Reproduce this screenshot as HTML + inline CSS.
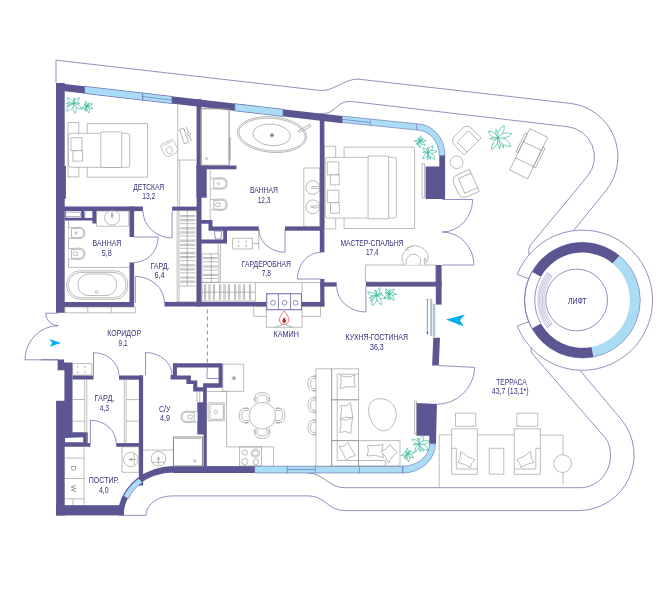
<!DOCTYPE html>
<html><head><meta charset="utf-8"><title>Plan</title>
<style>
html,body{margin:0;padding:0;background:#fff;}
body{width:669px;height:590px;overflow:hidden;font-family:"Liberation Sans",sans-serif;}
svg{display:block;will-change:transform;}
text{font-family:"Liberation Sans",sans-serif;}
</style></head><body>
<svg width="669" height="590" viewBox="0 0 669 590">
<rect width="669" height="590" fill="#fff"/>
<g fill="none" stroke="#5356a0" stroke-width="0.65">
<path d="M56,83 L56,60.2 L319.4,90.4 C333,92 343,79.3 358,79.1 L570.2,103.4 A53.75,53.75 0 0 1 605.6,191 L573.8,230.4"/>
<path d="M324.5,113.3 C333,113.6 338,102.6 347,101.6 C350,101.3 353,101.6 356,102 L567.6,126.7 A30.3,30.3 0 0 1 587.5,176.1 L530.5,245 Q527.5,249 529,254.3"/>
<path d="M517.3,274.3 A70.1,70.1 0 1 1 517.3,326.1"/>
<path d="M517.3,274.3 L528.6,278.8"/>
<path d="M517.3,326.1 L528.6,321.6"/>
<path d="M532.0,271.8 A57.9,57.9 0 0 0 532.0,328.6"/>
<path d="M540.9,276.8 A47.6,47.6 0 0 0 540.9,323.6"/>
<circle cx="576.6" cy="300" r="30.9"/>
<path stroke-width="0.35" d="M552.0,276.4 A38.6,38.6 0 0 0 552.0,324.0"/>
<path stroke-width="0.35" d="M550.8,275.5 A40.1,40.1 0 0 0 550.8,324.9"/>
<path stroke-width="0.35" d="M549.6,274.6 A41.6,41.6 0 0 0 549.6,325.8"/>
<path stroke-width="0.35" d="M548.4,273.7 A43.1,43.1 0 0 0 548.4,326.7"/>
<path stroke-width="0.35" d="M547.3,272.7 A44.6,44.6 0 0 0 547.3,327.7"/>
<path stroke-width="0.5" d="M551.7,276.2 L547.3,272.7"/>
<path stroke-width="0.5" d="M551.7,324.2 L547.3,327.7"/>
<path d="M580.3,370.7 L621.8,420.2 A55.6,55.6 0 0 1 579,510.6 L344.5,510.6 C328,510.6 325,495.9 309,495.9 L172.3,495.9 A26.4,19.6 0 0 0 145.9,515.4 L123.6,515.4"/>
<path d="M531.5,347.5 Q530,351 532.5,354 L605.2,437.8 C609,442.4 610.5,449 610.5,455.5 C610.5,473.3 596.9,487.7 580.3,487.7 L344.5,487.7 C328,487.5 324,473 307.7,473"/>
<path d="M41,359.8 L58,359.8"/>
</g>
<g fill="none" stroke="#5356a0" stroke-width="0.65">
<path d="M58.3,359.8 L25,359.8 A33.5,34 0 0 1 58.3,325.7"/>
<path d="M58.3,313.2 L45.6,313.2 A12.7,12.5 0 0 0 58.3,325.7"/>
<path d="M172.1,211 L172.1,238 M143,211 A29.2,27 0 0 0 172.1,238"/>
<path d="M134,237 L158.2,237 A24.2,25.5 0 0 1 134,262.5"/>
<path d="M135.3,303 L135.3,276.4 A29.2,26.6 0 0 1 164.5,303"/>
<path d="M285,229 L285,252.3 M258.8,229 A26.2,23.3 0 0 0 285,252.3"/>
<path d="M321,279 L297.4,279 A23.6,26.7 0 0 1 321,252.3"/>
<path d="M365.9,286.6 L365.9,312 M336.7,286.6 A29.2,25.4 0 0 0 365.9,312"/>
<path d="M442.1,199.5 L472.6,199.5 A30.5,32.5 0 0 1 442.1,232 A31.8,33 0 0 1 473.9,265 L442.1,265"/>
<path d="M438.6,365.6 L474.7,367.4 A37.5,38 0 0 1 436.6,404.2"/>
<path d="M93.5,375.5 L93.5,352.7 A25.5,22.8 0 0 1 119,375.5"/>
<path d="M145.5,375.4 L145.5,352.5 A26.6,22.9 0 0 1 172.1,375.4"/>
<path d="M90.4,443.1 L90.4,420.3 A25.8,22.8 0 0 1 116.2,443.1"/>
<path d="M207.4,309.5 L207.4,363" stroke-dasharray="4,3"/>
</g>
<g fill="#5b5591" stroke="none">
<path d="M56,83.0 L342.3,116.1 L342.3,123.3 L56,90.2 Z"/>
<rect x="56" y="83" width="8.7" height="229.8"/>
<rect x="56" y="166" width="9.9" height="32.5"/>
<rect x="196.6" y="99.2" width="4.9" height="207.2"/>
<rect x="319.8" y="113.5" width="4.6" height="138.8"/>
<rect x="320.2" y="279" width="4.2" height="27.4"/>
<rect x="320.2" y="282.3" width="16.5" height="4.3"/>
<rect x="56" y="206.5" width="86.9" height="4.6"/>
<rect x="172.1" y="206.6" width="25" height="4"/>
<rect x="129.5" y="206.5" width="4.6" height="30.5"/>
<rect x="129.5" y="262.5" width="4.6" height="44.5"/>
<rect x="56" y="302" width="78" height="5"/>
<rect x="164.5" y="301.9" width="101.9" height="4.6"/>
<rect x="302" y="301.9" width="22.4" height="4.6"/>
<rect x="227" y="226.4" width="31.8" height="4.3"/>
<rect x="285" y="226.4" width="36" height="4.3"/>
<rect x="196.5" y="165.5" width="40" height="3.8"/>
<rect x="196.5" y="165.5" width="10.2" height="32.2"/>
<path d="M200.8,220 L212.5,220 L212.5,226.4 L227,226.4 L227,243.4 L200.8,243.4 L200.8,239.6 L223.2,239.6 L223.2,230.7 L208.5,230.7 L208.5,223.8 L200.8,223.8 Z"/>
<path d="M439.3,155.5 L445.1,155.5 L445.1,198.9 L425.6,198.9 L425.6,166.4 L439.3,166.4 Z"/>
<rect x="365.9" y="282" width="75.7" height="4.6"/>
<rect x="435.8" y="265" width="5.8" height="39.6"/>
<path d="M433.3,337.8 L440,337.8 L438.8,365.6 L432.1,365.6 Z"/>
<path d="M416.5,403 L436.9,404 L436,443.7 L429.3,443.7 L429.3,435.8 L416.5,435.8 Z"/>
<rect x="173" y="466.1" width="81.8" height="6.9"/>
<path d="M123.6,515.4 A50.1,43 0 0 1 173.7,472.6 L173.7,466 A56,49.4 0 0 0 119,505.6 L119,515.4 Z"/>
<rect x="56" y="505.2" width="68" height="10.2"/>
<path d="M57.6,359.5 L64.1,359.5 L64.1,362.5 L72.5,362.5 L72.5,432.3 L87.7,432.3 L87.7,443.1 L90.4,443.1 L90.4,446.8 L64.7,446.8 L64.7,515.4 L56.1,515.4 L56.1,400.8 L64.4,400.8 L64.4,370.3 L57.6,370.3 Z"/>
<rect x="72.5" y="375.5" width="21" height="4"/>
<rect x="119" y="375.5" width="23.9" height="4.2"/>
<rect x="138.9" y="375.5" width="4.2" height="110"/>
<rect x="116.2" y="443.1" width="23" height="3.7"/>
<path fill-rule="evenodd" d="M172.9,363.2 L222.6,363.2 L222.6,387.7 L206.8,387.7 L206.8,402.2 L206.8,466.1 L203.5,466.1 L203.5,434.5 L197.3,434.5 L197.3,402.2 L203.1,402.2 L203.1,391.4 L193.2,391.4 L193.2,383.9 L186.4,383.9 L186.4,379.6 L170.6,379.6 L170.6,375.1 L172.9,375.1 Z M176.9,367.4 L218.6,367.4 L218.6,383.2 L203.1,383.2 L203.1,387.3 L197.3,387.3 L197.3,380.5 L190.9,380.5 L190.9,375.5 L176.9,375.5 Z"/>
</g>
<path d="M65,438 L83.2,437.3 L83.2,442.3 L65,442.3 Z" fill="#fff"/>
<path fill="#5b5591" d="M532.0,271.8 A57.9,57.9 0 0 1 619.4,255.7 L612.8,263.6 A47.6,47.6 0 0 0 540.9,276.8 Z"/>
<path fill="#aadcf5" d="M619.4,255.7 A57.9,57.9 0 0 1 593.4,357.0 L591.5,346.9 A47.6,47.6 0 0 0 612.8,263.6 Z"/>
<path fill="#5b5591" d="M593.4,357.0 A57.9,57.9 0 0 1 532.0,328.6 L540.9,323.6 A47.6,47.6 0 0 0 591.5,346.9 Z"/>
<circle cx="582.4" cy="300.2" r="57.9" fill="none" stroke="#5356a0" stroke-width="0.5"/>
<g fill="#aadcf5" stroke="#5356a0" stroke-width="0.5">
<path d="M84.7,86.3 L142.8,93.0 L142.8,100.2 L84.7,93.5 Z"/>
<path d="M142.8,93.0 L172,96.4 L172,103.6 L142.8,100.2 Z"/>
<path d="M142.8,96.6 L172,100.0" fill="none"/>
<path d="M234.8,103.7 L283.1,109.2 L283.1,116.4 L234.8,110.9 Z"/>
<path d="M342.3,116.1 L416.7,123.8 A28.4,31.8 0 0 1 445.1,155.6 L439.3,155.6 A22.6,25.6 0 0 0 416.7,130 L342.3,122.5 Z"/>
<path d="M370.2,119.5 L370.2,125.5 M416.7,123.8 L416.7,130 M342.3,119.3 L370.2,122.5" fill="none"/>
<rect x="254.8" y="466.1" width="148" height="6.9"/>
<path d="M287.3,466.1 V473 M315.3,466.1 V473 M359.3,466.1 V473 M287.3,469.5 H315.3" fill="none"/>
<path d="M402.9,473 A32.5,29.3 0 0 0 435.4,443.7 L429.5,443.7 A26.6,22.4 0 0 1 402.9,466.1 Z"/>
<path d="M123.6,496.1 L128.3,498.8 Q133,488.5 142.5,482.5 L138.5,478.5 Q128.5,486 123.6,496.1 Z"/>
</g>
<g fill="none" stroke="#8a8a8a" stroke-width="0.58" stroke-linejoin="round">
<rect x="68.0" y="122.5" width="10.8" height="54.4" rx="0" />
<rect x="87.2" y="123.6" width="60.3" height="53.6" rx="0" />
<rect x="68.4" y="133.3" width="61.3" height="34.0" rx="2.5" fill="#fff"/>
<rect x="100.8" y="131.9" width="20.9" height="35.6" rx="1" fill="#fff"/>
<rect x="70.9" y="137.7" width="11.1" height="13.0" rx="0" fill="#fff"/>
<rect x="73.0" y="150.7" width="9.6" height="10.5" rx="0" fill="#fff"/>
<path d="M177.7,103.0 L177.7,160.0 L196.6,160.0"/>
<path d="M177.7,160.0 L177.7,206.6"/>
<path d="M179.7,160.0 L179.7,206.6"/>
<g transform="translate(169.3,148.1) rotate(-27) scale(0.8)"><path d="M-6,-8.5 L6,-8.5 Q9,-8.5 9,-5 L9,4 Q9,9.5 0,9.5 Q-9,9.5 -9,4 L-9,-5 Q-9,-8.5 -6,-8.5 Z" fill="#fff"/><path d="M-3.5,-1 Q-6.5,3 -3.5,6.5 Q0,8 2,5 Q4,1 1,-1.5 Q-1.5,-2.5 -3.5,-1 Z"/><path d="M-7,-6 L7,-6"/></g>
<g transform="translate(184,135.9) rotate(-19)"><rect x="-2.2" y="-7.6" width="4.4" height="15.2"/><path d="M5.2,-7.5 L5.2,7.5"/><circle cx="5.2" cy="0" r="1.6" fill="#fff"/></g>
<rect x="200.6" y="108.8" width="28.5" height="56.5" stroke-width="1"/>
<circle cx="206.5" cy="158.6" r="1.1" />
<path d="M230.3,137.5 L230.3,160.5"/>
<path d="M229.4,137.5 L229.4,160.5"/>
<g transform="rotate(5 272 134.6)"><ellipse cx="272" cy="134.6" rx="34.8" ry="17.8"/><ellipse cx="272" cy="134.6" rx="33.2" ry="16.3"/><ellipse cx="271.7" cy="134.9" rx="18.8" ry="10.8"/></g>
<circle cx="272" cy="135.2" r="1.6" fill="#8a8a8a"/>
<g transform="translate(304.5,128.5) rotate(-28)"><rect x="-6.5" y="-1.1" width="13" height="2.2"/></g>
<path d="M210.2,170.2 L210.2,220.0"/>
<path d="M210.8,178.3 L221.3,177.8 Q227.2,177.8 227.2,183.5 Q227.2,189.2 221.3,189.2 L210.8,188.7" fill="#fff"/>
<path d="M213.8,179.2 L221.1,178.9 Q226.0,178.9 226.0,183.5 Q226.0,188.1 221.1,188.1 L213.8,187.8 Z"/>
<circle cx="218.4" cy="183.5" r="1.1" />
<path d="M210.8,199.5 L221.3,199.0 Q227.2,199.0 227.2,204.7 Q227.2,210.4 221.3,210.4 L210.8,209.9" fill="#fff"/>
<path d="M213.8,200.4 L221.1,200.1 Q226.0,200.1 226.0,204.7 Q226.0,209.3 221.1,209.3 L213.8,209.0 Z"/>
<rect x="215.6" y="202.9" width="4.6" height="3.6" rx="1.2"/>
<rect x="303.8" y="168.0" width="16.0" height="58.4" rx="0" />
<circle cx="312.8" cy="187.5" r="6.9" />
<path d="M312.8,186.5 L319.0,186.5"/>
<path d="M312.8,188.5 L319.0,188.5"/>
<circle cx="312.0" cy="187.5" r="0.8" />
<circle cx="312.8" cy="206.8" r="6.9" />
<path d="M312.8,205.8 L319.0,205.8"/>
<path d="M312.8,207.8 L319.0,207.8"/>
<circle cx="312.0" cy="206.8" r="0.8" />
<rect x="324.6" y="146.2" width="11.1" height="82.7" rx="0" />
<rect x="344.1" y="147.2" width="70.5" height="81.3" rx="0" />
<rect x="325.2" y="157.3" width="71.2" height="60.7" rx="2.5" fill="#fff"/>
<rect x="368.1" y="156.0" width="20.5" height="62.8" rx="1" fill="#fff"/>
<rect x="327.3" y="161.9" width="11.5" height="13.0" rx="0" fill="#fff"/>
<rect x="330.5" y="174.9" width="8.8" height="10.0" rx="0" fill="#fff"/>
<rect x="327.3" y="190.2" width="11.5" height="12.5" rx="0" fill="#fff"/>
<rect x="330.5" y="202.7" width="8.8" height="10.5" rx="0" fill="#fff"/>
<rect x="422.1" y="163.6" width="2.5" height="33.9" rx="0" />
<rect x="365.4" y="265.0" width="70.4" height="17.0" rx="0" />
<path d="M405.1,264.9 C401,262 401.5,256 403.5,253.5 C406,247.5 412,245.7 414.4,245.7 C421,245.5 428.5,251 428.1,257.4 C428.3,261 426.5,263 424.5,264.4" fill="#fff"/>
<path d="M406,264.6 C406.5,260 407,258 408.2,256.5 C410,254.5 412.5,254 414,254.3 C418,255 421,258 420.6,260 C420.5,262 420,263.5 419.3,264.9"/>
<path d="M405.4,249.6 L409.2,250.4 M406.3,248.5 C409,246.8 411,246.5 413,246.6 M425.2,258 L426.8,262 M424.5,258.2 L424.3,264.5"/>
<g transform="translate(465.6,139.3) rotate(45)"><path d="M-10,-5 Q-10,-12 -3,-12 L10,-12 L10,12 L-3,12 Q-10,12 -10,5 Z"/><path d="M10,-8 L-4,-8 L-4,8 L10,8"/></g>
<circle cx="456.7" cy="162.3" r="6.3" />
<g transform="translate(465.2,184.4) rotate(-24)"><path d="M-10,-5 Q-10,-12 -3,-12 L10,-12 L10,12 L-3,12 Q-10,12 -10,5 Z"/><path d="M10,-8 L-4,-8 L-4,8 L10,8"/></g>
<g transform="translate(528.7,153.7) rotate(26)"><rect x="-10" y="-23" width="20" height="46"/><path d="M-10,-8.5 L10,-8.5 M-10,9.5 L10,9.5"/><rect x="-12.3" y="-17" width="2.3" height="21"/><rect x="10" y="-12" width="2.3" height="22"/></g>
<path d="M64.7,210.8 H96.4 V223.5 H92.4 V220.4 H64.7 Z" fill="#5b5492" stroke="none"/>
<rect x="65.5" y="211.1" width="15.7" height="6.6" fill="#fff" stroke="none"/>
<rect x="84.2" y="211.1" width="8.2" height="6.8" fill="#fff" stroke="none"/>
<rect x="65.6" y="212.3" width="14.8" height="4.2" stroke="#4a4a90" stroke-width="0.4"/>
<path d="M85,212 L84.4,218" stroke="#4a4a90" stroke-width="0.6"/>
<rect x="96.4" y="210.8" width="32.3" height="15.4" rx="0" />
<circle cx="112.2" cy="217.5" r="7.6" />
<path d="M111.5,213 Q112.2,212 112.9,213 L112.7,218 L111.7,218 Z M111,215.2 L113.4,215.2"/>
<path d="M68.5,220.4 L68.5,267.4 L129.5,267.4"/>
<path d="M68.5,227.8 L79.0,227.3 Q84.9,227.3 84.9,233.0 Q84.9,238.7 79.0,238.7 L68.5,238.2" fill="#fff"/>
<path d="M71.5,228.7 L78.8,228.4 Q83.7,228.4 83.7,233.0 Q83.7,237.6 78.8,237.6 L71.5,237.3 Z"/>
<circle cx="76.1" cy="233.0" r="1.1" />
<path d="M68.5,248.6 L79.0,248.1 Q84.9,248.1 84.9,253.8 Q84.9,259.5 79.0,259.5 L68.5,259.0" fill="#fff"/>
<path d="M71.5,249.5 L78.8,249.2 Q83.7,249.2 83.7,253.8 Q83.7,258.4 78.8,258.4 L71.5,258.1 Z"/>
<rect x="73.3" y="252.0" width="4.6" height="3.6" rx="1.2"/>
<rect x="66.7" y="270.8" width="61.0" height="28.5" rx="13" />
<rect x="68.5" y="272.4" width="57.4" height="25.3" rx="12" />
<rect x="78.0" y="274.0" width="38.5" height="21.5" rx="10" />
<circle cx="96.6" cy="292.3" r="1.3" />
<rect x="64.7" y="307.0" width="70.6" height="5.8" rx="0" />
<path d="M87.8,307.0 L87.8,312.8"/>
<path d="M111.2,307.0 L111.2,312.8"/>
<rect x="177.2" y="210.6" width="19.4" height="91.3" rx="0" />
<path d="M179.0,210.6 L179.0,301.9"/>
<path d="M179.4,286.0 L196.6,286.0"/>
<path d="M180.2,215.5 L195.3,215.5"/>
<path d="M180.2,216.7 L195.3,216.7"/>
<path d="M180.2,219.6 L195.3,219.6"/>
<path d="M180.2,220.8 L195.3,220.8"/>
<path d="M180.2,223.7 L195.3,223.7"/>
<path d="M180.2,227.8 L195.3,227.8"/>
<path d="M180.2,229.0 L195.3,229.0"/>
<path d="M180.2,231.9 L195.3,231.9"/>
<path d="M180.2,233.1 L195.3,233.1"/>
<path d="M180.2,236.0 L195.3,236.0"/>
<path d="M180.2,240.1 L195.3,240.1"/>
<path d="M180.2,241.3 L195.3,241.3"/>
<path d="M180.2,244.2 L195.3,244.2"/>
<path d="M180.2,245.4 L195.3,245.4"/>
<path d="M180.2,248.3 L195.3,248.3"/>
<path d="M180.2,252.4 L195.3,252.4"/>
<path d="M180.2,253.6 L195.3,253.6"/>
<path d="M180.2,256.5 L195.3,256.5"/>
<path d="M180.2,257.7 L195.3,257.7"/>
<path d="M180.2,260.6 L195.3,260.6"/>
<path d="M180.2,264.7 L195.3,264.7"/>
<path d="M180.2,265.9 L195.3,265.9"/>
<path d="M180.2,268.8 L195.3,268.8"/>
<path d="M180.2,270.0 L195.3,270.0"/>
<path d="M180.2,272.9 L195.3,272.9"/>
<path d="M180.2,277.0 L195.3,277.0"/>
<path d="M180.2,278.2 L195.3,278.2"/>
<path d="M180.2,281.1 L195.3,281.1"/>
<path d="M180.2,282.3 L195.3,282.3"/>
<path d="M187.2,211.0 L187.2,286.0"/>
<rect x="232.6" y="238.3" width="19.8" height="10.7" rx="0" />
<circle cx="238.5" cy="241.5" r="0.5" />
<circle cx="246.0" cy="241.5" r="0.5" />
<circle cx="238.5" cy="246.0" r="0.5" />
<circle cx="246.0" cy="246.0" r="0.5" />
<path d="M252.4,243.6 L258.8,243.6"/>
<path d="M258.8,230.7 L258.8,249.0"/>
<path d="M218.0,243.4 L218.0,253.9"/>
<path d="M220.4,243.4 L220.4,282.4"/>
<rect x="202.0" y="253.9" width="16.9" height="28.5" rx="0" />
<path d="M203.2,257.5 L217.7,257.5"/>
<path d="M203.2,258.7 L217.7,258.7"/>
<path d="M203.2,261.7 L217.7,261.7"/>
<path d="M203.2,265.9 L217.7,265.9"/>
<path d="M203.2,267.1 L217.7,267.1"/>
<path d="M203.2,270.1 L217.7,270.1"/>
<path d="M203.2,274.3 L217.7,274.3"/>
<path d="M203.2,275.5 L217.7,275.5"/>
<path d="M203.2,278.5 L217.7,278.5"/>
<path d="M211.3,253.9 L211.3,282.4"/>
<rect x="202.0" y="282.4" width="53.4" height="18.6" rx="0" />
<path d="M204.5,284.2 L204.5,299.8"/>
<path d="M205.7,284.2 L205.7,299.8"/>
<path d="M208.9,284.2 L208.9,299.8"/>
<path d="M210.1,284.2 L210.1,299.8"/>
<path d="M213.3,284.2 L213.3,299.8"/>
<path d="M214.5,284.2 L214.5,299.8"/>
<path d="M219.5,284.2 L219.5,299.8"/>
<path d="M220.7,284.2 L220.7,299.8"/>
<path d="M223.9,284.2 L223.9,299.8"/>
<path d="M225.1,284.2 L225.1,299.8"/>
<path d="M228.3,284.2 L228.3,299.8"/>
<path d="M229.5,284.2 L229.5,299.8"/>
<path d="M234.5,284.2 L234.5,299.8"/>
<path d="M235.7,284.2 L235.7,299.8"/>
<path d="M238.9,284.2 L238.9,299.8"/>
<path d="M240.1,284.2 L240.1,299.8"/>
<path d="M243.3,284.2 L243.3,299.8"/>
<path d="M244.5,284.2 L244.5,299.8"/>
<path d="M249.5,284.2 L249.5,299.8"/>
<path d="M250.7,284.2 L250.7,299.8"/>
<path d="M202.0,292.2 L255.4,292.2"/>
<path d="M255.4,282.6 L302.0,282.6"/>
<path d="M302.0,282.6 L302.0,293.0"/>
<path d="M302.0,282.6 L320.5,282.6"/>
<path d="M214.3,231 L215.5,239 L221,239 L221.8,231.2 Z" stroke="#4a4a90"/>
<rect x="253.7" y="306.4" width="66.8" height="10.0" rx="0" />
<rect x="266.4" y="309.5" width="35.6" height="17.8" fill="#fff"/>
<rect x="266.7" y="293.7" width="34.8" height="16" fill="#fff" stroke="#6f6ba8" stroke-width="1.1"/>
<path d="M278.4,293.7 V309.7 M290.5,293.7 V309.7" stroke="#6f6ba8" stroke-width="0.8"/>
<circle cx="273" cy="302.8" r="2.4" stroke="#4a4a90" stroke-width="0.6"/>
<circle cx="284.6" cy="302.8" r="2.4" stroke="#4a4a90" stroke-width="0.6"/>
<circle cx="295.6" cy="302.8" r="2.4" stroke="#4a4a90" stroke-width="0.6"/>
<path d="M284.2,311 C280.6,315.5 279.4,317.8 279.4,319.9 C279.4,322.6 281.6,324.3 284.2,324.3 C286.8,324.3 288.9,322.6 288.9,319.9 C288.9,317.8 287.8,315.5 284.2,311 Z" stroke="#d8232a" stroke-width="0.6"/>
<path d="M284.2,317.3 C282.9,319.2 282.4,320.2 282.4,321.1 C282.4,322.4 283.2,323.1 284.2,323.1 C285.2,323.1 286,322.4 286,321.1 C286,320.2 285.5,319.2 284.2,317.3 Z" fill="#d8232a" stroke="none"/>
<path d="M275.3,327.2 L284.2,324.3 L292.8,327.2"/>
<path d="M427.4,299.5 V333 M426.5,299.4 h1.8" stroke="#4a4a90" stroke-width="0.6"/>
<path d="M426.2,332.4 L428.6,332.4 L427.4,334.6 Z" fill="#3d3f7a" stroke="none"/>
<rect x="430.4" y="299" width="1.6" height="36.6" fill="#b3cad5" stroke="#7d909c" stroke-width="0.3"/>
<rect x="433.4" y="304" width="1.6" height="32.6" fill="#b3cad5" stroke="#7d909c" stroke-width="0.3"/>
<rect x="72.8" y="363.6" width="19.1" height="11.5" rx="0.8" />
<circle cx="77.5" cy="366.8" r="0.5" />
<circle cx="85.0" cy="366.8" r="0.5" />
<circle cx="77.5" cy="372.3" r="0.5" />
<circle cx="85.0" cy="372.3" r="0.5" />
<path d="M84.7,379.5 L84.7,432.3"/>
<path d="M86.8,379.5 L86.8,443.0"/>
<path d="M72.5,399.5 L84.7,399.5"/>
<path d="M72.5,421.2 L84.7,421.2"/>
<path d="M124.3,379.7 L124.3,443.1"/>
<path d="M126.2,379.7 L126.2,443.1"/>
<path d="M126.2,399.6 L138.9,399.6"/>
<path d="M126.2,421.2 L138.9,421.2"/>
<path d="M84.0,446.8 L84.0,505.2"/>
<path d="M64.7,458.1 L84.0,458.1"/>
<path d="M64.7,478.5 L84.0,478.5"/>
<path d="M64.7,498.8 L84.0,498.8"/>
<path d="M73.0,498.8 L73.0,505.2"/>
<rect x="122.0" y="446.8" width="16.9" height="25.5" rx="0" />
<circle cx="130.8" cy="459.5" r="7.3" />
<path d="M134.2,453.0 L134.2,466.0"/>
<path d="M129.5,459.5 L136.8,459.5"/>
<ellipse cx="131" cy="459.5" rx="1.4" ry="0.9"/>
<text transform="translate(71,468.3) rotate(90)" font-size="7.5" text-anchor="middle" fill="#8a8a8a" stroke="none" font-family="Liberation Sans">D</text>
<text transform="translate(70.5,488.6) rotate(90)" font-size="7.5" text-anchor="middle" fill="#8a8a8a" stroke="none" font-family="Liberation Sans">W</text>
<path d="M197.3,411.6 L186.8,411.1 Q180.9,411.1 180.9,416.8 Q180.9,422.5 186.8,422.5 L197.3,422.0" fill="#fff"/>
<path d="M194.3,412.5 L187.0,412.2 Q182.1,412.2 182.1,416.8 Q182.1,421.4 187.0,421.4 L194.3,421.1 Z"/>
<rect x="187.9" y="415.0" width="4.6" height="3.6" rx="1.2"/>
<path d="M197.0,391.4 L197.0,402.2"/>
<path d="M199.7,391.4 L199.7,402.2"/>
<path d="M207.3,367.4 L206.9,378.5 L218.6,378.5" stroke="#4a4a90" stroke-width="0.6"/>
<path d="M142.9,450.1 L173.5,450.1"/>
<circle cx="158.4" cy="458.8" r="7.3" />
<path d="M158.4,457.5 L158.4,465.0"/>
<path d="M151.8,462.2 L165.0,462.2"/>
<ellipse cx="158.4" cy="458.6" rx="0.9" ry="1.4"/>
<rect x="173.5" y="437" width="29" height="29" stroke-width="1.1"/>
<path d="M175.0,438.6 L201.0,438.6"/>
<circle cx="194.7" cy="460.9" r="1.2" />
<rect x="222.8" y="364.2" width="20.9" height="27.2" rx="0" />
<path d="M233.9,375.8 V380.6 M231.8,377 L236,379.4 M236,377 L231.8,379.4" stroke-width="0.8"/>
<path d="M226.6,391.4 L226.6,446.9 L273.6,446.9 L273.6,466.0"/>
<path d="M206.8,391.4 L226.6,391.4"/>
<rect x="208.1" y="402.9" width="16.2" height="17.8" rx="0" />
<rect x="210.0" y="404.3" width="13.4" height="15.0" rx="1" />
<path d="M214.5,411 a1.8,1.8 0 1 0 0.1,-0.1"/>
<rect x="239.5" y="446.9" width="22.0" height="18.9" rx="0" />
<circle cx="244.8" cy="452.5" r="2.7" />
<circle cx="255.3" cy="453.2" r="4.2" />
<circle cx="255.3" cy="453.2" r="2.8" />
<circle cx="244.8" cy="461.5" r="3.1" />
<circle cx="255.8" cy="462.0" r="2.7" />
<g transform="translate(262.1,401.5) rotate(0)"><path d="M-7,1 L-7,-4 Q-7,-9 0,-9 Q7,-9 7,-4 L7,1" fill="#fff"/><path d="M-5,1 L-5,-3.5 Q-5,-6.5 0,-6.5 Q5,-6.5 5,-3.5 L5,1"/><path d="M-7.6,-4 L-7.6,0 M7.6,-4 L7.6,0"/></g>
<g transform="translate(262.1,429.5) rotate(180)"><path d="M-7,1 L-7,-4 Q-7,-9 0,-9 Q7,-9 7,-4 L7,1" fill="#fff"/><path d="M-5,1 L-5,-3.5 Q-5,-6.5 0,-6.5 Q5,-6.5 5,-3.5 L5,1"/><path d="M-7.6,-4 L-7.6,0 M7.6,-4 L7.6,0"/></g>
<g transform="translate(248.3,415.5) rotate(-90)"><path d="M-7,1 L-7,-4 Q-7,-9 0,-9 Q7,-9 7,-4 L7,1" fill="#fff"/><path d="M-5,1 L-5,-3.5 Q-5,-6.5 0,-6.5 Q5,-6.5 5,-3.5 L5,1"/><path d="M-7.6,-4 L-7.6,0 M7.6,-4 L7.6,0"/></g>
<g transform="translate(276,415.5) rotate(90)"><path d="M-7,1 L-7,-4 Q-7,-9 0,-9 Q7,-9 7,-4 L7,1" fill="#fff"/><path d="M-5,1 L-5,-3.5 Q-5,-6.5 0,-6.5 Q5,-6.5 5,-3.5 L5,1"/><path d="M-7.6,-4 L-7.6,0 M7.6,-4 L7.6,0"/></g>
<circle cx="262.4" cy="415.7" r="13.3" fill="#fff"/>
<g transform="translate(317,383.5) rotate(-90)"><path d="M-7,1 L-7,-4 Q-7,-9 0,-9 Q7,-9 7,-4 L7,1" fill="#fff"/><path d="M-5,1 L-5,-3.5 Q-5,-6.5 0,-6.5 Q5,-6.5 5,-3.5 L5,1"/><path d="M-7.6,-4 L-7.6,0 M7.6,-4 L7.6,0"/></g>
<g transform="translate(317,405) rotate(-90)"><path d="M-7,1 L-7,-4 Q-7,-9 0,-9 Q7,-9 7,-4 L7,1" fill="#fff"/><path d="M-5,1 L-5,-3.5 Q-5,-6.5 0,-6.5 Q5,-6.5 5,-3.5 L5,1"/><path d="M-7.6,-4 L-7.6,0 M7.6,-4 L7.6,0"/></g>
<g transform="translate(317,427.4) rotate(-90)"><path d="M-7,1 L-7,-4 Q-7,-9 0,-9 Q7,-9 7,-4 L7,1" fill="#fff"/><path d="M-5,1 L-5,-3.5 Q-5,-6.5 0,-6.5 Q5,-6.5 5,-3.5 L5,1"/><path d="M-7.6,-4 L-7.6,0 M7.6,-4 L7.6,0"/></g>
<rect x="315.9" y="368.8" width="15.7" height="97.3" fill="#fff"/>
<rect x="331.6" y="368.8" width="26.9" height="31.0" rx="0" />
<rect x="331.6" y="399.8" width="26.9" height="40.8" rx="0" />
<rect x="331.6" y="440.6" width="26.9" height="25.5" rx="0" />
<path d="M337.2,374.2 L358.5,374.2"/>
<path d="M337.2,374.2 L337.2,460.5 L385.3,460.5 L385.3,466.0"/>
<rect x="358.5" y="440.6" width="41.5" height="25.5" rx="0" />
<path d="M340.5,375.5 Q347.5,378.5 354.5,375 Q353,381.5 355.5,387 Q348,385.5 340,388.5 Q342.5,382 340.5,375.5 Z" fill="#fff"/>
<path d="M341,405 Q346.5,407.5 350.5,402.5 Q351.5,410.5 353,418 Q346.5,416 340,418.5 Q342.5,411.5 341,405 Z" fill="#fff"/>
<path d="M340.5,419.5 Q347,421.5 352.5,417.5 Q351,425 351,433.5 Q345.5,430 339.5,432.5 Q342,426 340.5,419.5 Z" fill="#fff"/>
<path d="M339,446.5 Q344.5,447.5 348,442.5 Q351.5,449.5 355.5,455.5 Q349.5,456.5 346,460 Q343.5,452.5 339,446.5 Z" fill="#fff"/>
<path d="M367.5,445.5 Q375.5,446.5 383,444.5 Q381,450 383.5,457.5 Q375.5,454 367,456 Q369.5,450.5 367.5,445.5 Z" fill="#fff"/>
<path d="M381,451.5 Q386.5,449.5 390,444.5 Q393.5,449.5 397.5,452.5 Q391.5,456 388.5,463 Q386,456 381,451.5 Z" fill="#fff"/>
<path d="M380.5,398.7 C390,398.7 396.5,406 396.2,415 C395.9,424 390,430.8 383.5,430.8 C376,430.8 368.6,420 368.6,410.5 C368.6,402.5 373.5,398.7 380.5,398.7 Z"/>
<rect x="414.6" y="401.0" width="1.8" height="33.0" rx="0" />
<path d="M439.2,487.5 L439.2,434.8 L451.7,434.8"/>
<path d="M477.3,434.8 L514.2,434.8"/>
<path d="M540.4,435.1 L563.0,435.1 L563.0,454.7"/>
<path d="M563.0,472.5 L563.0,484.7"/>
<circle cx="562.6" cy="463.6" r="8.9" />
<rect x="455.5" y="413.2" width="20.3" height="13.1" rx="0" />
<rect x="451.7" y="428.8" width="25.6" height="45.5" rx="0" />
<path d="M451.7,448.3 L456.3,448.3 L456.3,469.0 L477.3,469.0"/>
<path d="M460.7,451.5 Q467.2,457.1 474.7,459.8 Q470.6,462.8 470.5,467.8 Q464.8,463.7 458.0,462.5 Q461.3,458.0 460.7,451.5 Z" fill="#fff"/>
<rect x="516.8" y="413.2" width="21.0" height="13.1" rx="0" />
<rect x="514.2" y="428.8" width="26.2" height="45.5" rx="0" />
<path d="M540.4,448.3 L535.8,448.3 L535.8,469.0 L514.2,469.0"/>
<path d="M530.8,451.5 Q524.2,457.0 516.6,459.8 Q520.7,462.6 520.7,467.4 Q526.7,463.6 533.7,462.5 Q530.2,458.0 530.8,451.5 Z" fill="#fff"/>
<rect x="489.3" y="448.3" width="14.5" height="25.9" rx="0" />
</g>
<g transform="translate(74,103.6) rotate(100) scale(0.68)" fill="#fff" stroke="#1fae8f" stroke-width="0.81" stroke-linejoin="round">
<path transform="rotate(-63.4)" d="M0,0 Q5.4,-5.3 13.6,0 Q7.5,4.5 0,0 Z"/>
<path transform="rotate(-103.5)" d="M0,0 Q3.5,-2.3 8.7,0 Q4.8,1.9 0,0 Z"/>
<path transform="rotate(-146.8)" d="M0,0 Q4.7,-4.6 11.7,0 Q6.4,3.9 0,0 Z"/>
<path transform="rotate(173)" d="M0,0 Q3.4,-2.2 8.5,0 Q4.7,1.9 0,0 Z"/>
<path transform="rotate(118.5)" d="M0,0 Q5.4,-4.6 13.5,0 Q7.4,3.9 0,0 Z"/>
<path transform="rotate(81.6)" d="M0,0 Q4.6,-3.0 11.6,0 Q6.4,2.6 0,0 Z"/>
<path transform="rotate(60.5)" d="M0,0 Q4.7,-3.0 11.7,0 Q6.4,2.6 0,0 Z"/>
<path transform="rotate(34.4)" d="M0,0 Q6.2,-6.1 15.6,0 Q8.6,5.1 0,0 Z"/>
<path transform="rotate(-16.3)" d="M0,0 Q5.8,-5.3 14.5,0 Q8.0,4.5 0,0 Z"/>
</g>
<g transform="translate(87.1,106.2) rotate(40) scale(0.45)" fill="#fff" stroke="#1fae8f" stroke-width="1.22" stroke-linejoin="round">
<path transform="rotate(-63.4)" d="M0,0 Q5.4,-5.3 13.6,0 Q7.5,4.5 0,0 Z"/>
<path transform="rotate(-103.5)" d="M0,0 Q3.5,-2.3 8.7,0 Q4.8,1.9 0,0 Z"/>
<path transform="rotate(-146.8)" d="M0,0 Q4.7,-4.6 11.7,0 Q6.4,3.9 0,0 Z"/>
<path transform="rotate(173)" d="M0,0 Q3.4,-2.2 8.5,0 Q4.7,1.9 0,0 Z"/>
<path transform="rotate(118.5)" d="M0,0 Q5.4,-4.6 13.5,0 Q7.4,3.9 0,0 Z"/>
<path transform="rotate(81.6)" d="M0,0 Q4.6,-3.0 11.6,0 Q6.4,2.6 0,0 Z"/>
<path transform="rotate(60.5)" d="M0,0 Q4.7,-3.0 11.7,0 Q6.4,2.6 0,0 Z"/>
<path transform="rotate(34.4)" d="M0,0 Q6.2,-6.1 15.6,0 Q8.6,5.1 0,0 Z"/>
<path transform="rotate(-16.3)" d="M0,0 Q5.8,-5.3 14.5,0 Q8.0,4.5 0,0 Z"/>
</g>
<g transform="translate(420.2,141) rotate(60) scale(0.45)" fill="#fff" stroke="#1fae8f" stroke-width="1.22" stroke-linejoin="round">
<path transform="rotate(-63.4)" d="M0,0 Q5.4,-5.3 13.6,0 Q7.5,4.5 0,0 Z"/>
<path transform="rotate(-103.5)" d="M0,0 Q3.5,-2.3 8.7,0 Q4.8,1.9 0,0 Z"/>
<path transform="rotate(-146.8)" d="M0,0 Q4.7,-4.6 11.7,0 Q6.4,3.9 0,0 Z"/>
<path transform="rotate(173)" d="M0,0 Q3.4,-2.2 8.5,0 Q4.7,1.9 0,0 Z"/>
<path transform="rotate(118.5)" d="M0,0 Q5.4,-4.6 13.5,0 Q7.4,3.9 0,0 Z"/>
<path transform="rotate(81.6)" d="M0,0 Q4.6,-3.0 11.6,0 Q6.4,2.6 0,0 Z"/>
<path transform="rotate(60.5)" d="M0,0 Q4.7,-3.0 11.7,0 Q6.4,2.6 0,0 Z"/>
<path transform="rotate(34.4)" d="M0,0 Q6.2,-6.1 15.6,0 Q8.6,5.1 0,0 Z"/>
<path transform="rotate(-16.3)" d="M0,0 Q5.8,-5.3 14.5,0 Q8.0,4.5 0,0 Z"/>
</g>
<g transform="translate(428,152.5) rotate(10) scale(0.62)" fill="#fff" stroke="#1fae8f" stroke-width="0.89" stroke-linejoin="round">
<path transform="rotate(-63.4)" d="M0,0 Q5.4,-5.3 13.6,0 Q7.5,4.5 0,0 Z"/>
<path transform="rotate(-103.5)" d="M0,0 Q3.5,-2.3 8.7,0 Q4.8,1.9 0,0 Z"/>
<path transform="rotate(-146.8)" d="M0,0 Q4.7,-4.6 11.7,0 Q6.4,3.9 0,0 Z"/>
<path transform="rotate(173)" d="M0,0 Q3.4,-2.2 8.5,0 Q4.7,1.9 0,0 Z"/>
<path transform="rotate(118.5)" d="M0,0 Q5.4,-4.6 13.5,0 Q7.4,3.9 0,0 Z"/>
<path transform="rotate(81.6)" d="M0,0 Q4.6,-3.0 11.6,0 Q6.4,2.6 0,0 Z"/>
<path transform="rotate(60.5)" d="M0,0 Q4.7,-3.0 11.7,0 Q6.4,2.6 0,0 Z"/>
<path transform="rotate(34.4)" d="M0,0 Q6.2,-6.1 15.6,0 Q8.6,5.1 0,0 Z"/>
<path transform="rotate(-16.3)" d="M0,0 Q5.8,-5.3 14.5,0 Q8.0,4.5 0,0 Z"/>
</g>
<g transform="translate(498,137.7) rotate(0) scale(1.0)" fill="#fff" stroke="#1fae8f" stroke-width="0.55" stroke-linejoin="round">
<path transform="rotate(-63.4)" d="M0,0 Q5.4,-5.3 13.6,0 Q7.5,4.5 0,0 Z"/>
<path transform="rotate(-103.5)" d="M0,0 Q3.5,-2.3 8.7,0 Q4.8,1.9 0,0 Z"/>
<path transform="rotate(-146.8)" d="M0,0 Q4.7,-4.6 11.7,0 Q6.4,3.9 0,0 Z"/>
<path transform="rotate(173)" d="M0,0 Q3.4,-2.2 8.5,0 Q4.7,1.9 0,0 Z"/>
<path transform="rotate(118.5)" d="M0,0 Q5.4,-4.6 13.5,0 Q7.4,3.9 0,0 Z"/>
<path transform="rotate(81.6)" d="M0,0 Q4.6,-3.0 11.6,0 Q6.4,2.6 0,0 Z"/>
<path transform="rotate(60.5)" d="M0,0 Q4.7,-3.0 11.7,0 Q6.4,2.6 0,0 Z"/>
<path transform="rotate(34.4)" d="M0,0 Q6.2,-6.1 15.6,0 Q8.6,5.1 0,0 Z"/>
<path transform="rotate(-16.3)" d="M0,0 Q5.8,-5.3 14.5,0 Q8.0,4.5 0,0 Z"/>
</g>
<g transform="translate(376.7,295.5) rotate(80) scale(0.72)" fill="#fff" stroke="#1fae8f" stroke-width="0.76" stroke-linejoin="round">
<path transform="rotate(-63.4)" d="M0,0 Q5.4,-5.3 13.6,0 Q7.5,4.5 0,0 Z"/>
<path transform="rotate(-103.5)" d="M0,0 Q3.5,-2.3 8.7,0 Q4.8,1.9 0,0 Z"/>
<path transform="rotate(-146.8)" d="M0,0 Q4.7,-4.6 11.7,0 Q6.4,3.9 0,0 Z"/>
<path transform="rotate(173)" d="M0,0 Q3.4,-2.2 8.5,0 Q4.7,1.9 0,0 Z"/>
<path transform="rotate(118.5)" d="M0,0 Q5.4,-4.6 13.5,0 Q7.4,3.9 0,0 Z"/>
<path transform="rotate(81.6)" d="M0,0 Q4.6,-3.0 11.6,0 Q6.4,2.6 0,0 Z"/>
<path transform="rotate(60.5)" d="M0,0 Q4.7,-3.0 11.7,0 Q6.4,2.6 0,0 Z"/>
<path transform="rotate(34.4)" d="M0,0 Q6.2,-6.1 15.6,0 Q8.6,5.1 0,0 Z"/>
<path transform="rotate(-16.3)" d="M0,0 Q5.8,-5.3 14.5,0 Q8.0,4.5 0,0 Z"/>
</g>
<g transform="translate(389.3,293.8) rotate(20) scale(0.52)" fill="#fff" stroke="#1fae8f" stroke-width="1.06" stroke-linejoin="round">
<path transform="rotate(-63.4)" d="M0,0 Q5.4,-5.3 13.6,0 Q7.5,4.5 0,0 Z"/>
<path transform="rotate(-103.5)" d="M0,0 Q3.5,-2.3 8.7,0 Q4.8,1.9 0,0 Z"/>
<path transform="rotate(-146.8)" d="M0,0 Q4.7,-4.6 11.7,0 Q6.4,3.9 0,0 Z"/>
<path transform="rotate(173)" d="M0,0 Q3.4,-2.2 8.5,0 Q4.7,1.9 0,0 Z"/>
<path transform="rotate(118.5)" d="M0,0 Q5.4,-4.6 13.5,0 Q7.4,3.9 0,0 Z"/>
<path transform="rotate(81.6)" d="M0,0 Q4.6,-3.0 11.6,0 Q6.4,2.6 0,0 Z"/>
<path transform="rotate(60.5)" d="M0,0 Q4.7,-3.0 11.7,0 Q6.4,2.6 0,0 Z"/>
<path transform="rotate(34.4)" d="M0,0 Q6.2,-6.1 15.6,0 Q8.6,5.1 0,0 Z"/>
<path transform="rotate(-16.3)" d="M0,0 Q5.8,-5.3 14.5,0 Q8.0,4.5 0,0 Z"/>
</g>
<g transform="translate(419.3,444) rotate(0) scale(0.72)" fill="#fff" stroke="#1fae8f" stroke-width="0.76" stroke-linejoin="round">
<path transform="rotate(-63.4)" d="M0,0 Q5.4,-5.3 13.6,0 Q7.5,4.5 0,0 Z"/>
<path transform="rotate(-103.5)" d="M0,0 Q3.5,-2.3 8.7,0 Q4.8,1.9 0,0 Z"/>
<path transform="rotate(-146.8)" d="M0,0 Q4.7,-4.6 11.7,0 Q6.4,3.9 0,0 Z"/>
<path transform="rotate(173)" d="M0,0 Q3.4,-2.2 8.5,0 Q4.7,1.9 0,0 Z"/>
<path transform="rotate(118.5)" d="M0,0 Q5.4,-4.6 13.5,0 Q7.4,3.9 0,0 Z"/>
<path transform="rotate(81.6)" d="M0,0 Q4.6,-3.0 11.6,0 Q6.4,2.6 0,0 Z"/>
<path transform="rotate(60.5)" d="M0,0 Q4.7,-3.0 11.7,0 Q6.4,2.6 0,0 Z"/>
<path transform="rotate(34.4)" d="M0,0 Q6.2,-6.1 15.6,0 Q8.6,5.1 0,0 Z"/>
<path transform="rotate(-16.3)" d="M0,0 Q5.8,-5.3 14.5,0 Q8.0,4.5 0,0 Z"/>
</g>
<g transform="translate(407.8,454) rotate(50) scale(0.5)" fill="#fff" stroke="#1fae8f" stroke-width="1.10" stroke-linejoin="round">
<path transform="rotate(-63.4)" d="M0,0 Q5.4,-5.3 13.6,0 Q7.5,4.5 0,0 Z"/>
<path transform="rotate(-103.5)" d="M0,0 Q3.5,-2.3 8.7,0 Q4.8,1.9 0,0 Z"/>
<path transform="rotate(-146.8)" d="M0,0 Q4.7,-4.6 11.7,0 Q6.4,3.9 0,0 Z"/>
<path transform="rotate(173)" d="M0,0 Q3.4,-2.2 8.5,0 Q4.7,1.9 0,0 Z"/>
<path transform="rotate(118.5)" d="M0,0 Q5.4,-4.6 13.5,0 Q7.4,3.9 0,0 Z"/>
<path transform="rotate(81.6)" d="M0,0 Q4.6,-3.0 11.6,0 Q6.4,2.6 0,0 Z"/>
<path transform="rotate(60.5)" d="M0,0 Q4.7,-3.0 11.7,0 Q6.4,2.6 0,0 Z"/>
<path transform="rotate(34.4)" d="M0,0 Q6.2,-6.1 15.6,0 Q8.6,5.1 0,0 Z"/>
<path transform="rotate(-16.3)" d="M0,0 Q5.8,-5.3 14.5,0 Q8.0,4.5 0,0 Z"/>
</g>
<path d="M49.3,338.9 L61,343 L49.3,346.8 L52.3,343 Z" fill="#00aeef"/>
<path d="M446,319.6 L465,314.6 L460,320.2 L463.7,326.5 Z" fill="#00aeef"/>
<g fill="#30327a" font-size="8.7" font-family="Liberation Sans, sans-serif">
<text x="133.2" y="189.6" textLength="31.0" lengthAdjust="spacingAndGlyphs">ДЕТСКАЯ</text>
<text x="142.2" y="199.0" textLength="13.0" lengthAdjust="spacingAndGlyphs">13,2</text>
<text x="250.0" y="193.2" textLength="28.0" lengthAdjust="spacingAndGlyphs">ВАННАЯ</text>
<text x="257.7" y="202.6" textLength="12.6" lengthAdjust="spacingAndGlyphs">12,3</text>
<text x="340.5" y="245.8" textLength="63.0" lengthAdjust="spacingAndGlyphs">МАСТЕР-СПАЛЬНЯ</text>
<text x="366.0" y="255.2" textLength="12.6" lengthAdjust="spacingAndGlyphs">17,4</text>
<text x="92.6" y="246.2" textLength="28.7" lengthAdjust="spacingAndGlyphs">ВАННАЯ</text>
<text x="101.8" y="255.5" textLength="9.9" lengthAdjust="spacingAndGlyphs">5,8</text>
<text x="150.5" y="268.6" textLength="19.1" lengthAdjust="spacingAndGlyphs">ГАРД.</text>
<text x="154.4" y="277.6" textLength="10.1" lengthAdjust="spacingAndGlyphs">6,4</text>
<text x="241.8" y="266.8" textLength="49.2" lengthAdjust="spacingAndGlyphs">ГАРДЕРОБНАЯ</text>
<text x="261.8" y="276.2" textLength="9.2" lengthAdjust="spacingAndGlyphs">7,8</text>
<text x="107.3" y="336.0" textLength="33.8" lengthAdjust="spacingAndGlyphs">КОРИДОР</text>
<text x="118.5" y="346.0" textLength="9.1" lengthAdjust="spacingAndGlyphs">9,1</text>
<text x="273.5" y="337.3" textLength="25.4" lengthAdjust="spacingAndGlyphs">КАМИН</text>
<text x="345.6" y="339.9" textLength="62.3" lengthAdjust="spacingAndGlyphs">КУХНЯ-ГОСТИНАЯ</text>
<text x="370.0" y="349.7" textLength="13.7" lengthAdjust="spacingAndGlyphs">36,3</text>
<text x="567.9" y="303.8" textLength="18.7" lengthAdjust="spacingAndGlyphs">ЛИФТ</text>
<text x="496.2" y="384.5" textLength="30.4" lengthAdjust="spacingAndGlyphs">ТЕРРАСА</text>
<text x="491.8" y="394.0" textLength="36.9" lengthAdjust="spacingAndGlyphs">43,7 (13,1*)</text>
<text x="94.6" y="401.4" textLength="19.9" lengthAdjust="spacingAndGlyphs">ГАРД.</text>
<text x="99.7" y="411.3" textLength="9.4" lengthAdjust="spacingAndGlyphs">4,3</text>
<text x="158.9" y="412.0" textLength="11.5" lengthAdjust="spacingAndGlyphs">С/У</text>
<text x="160.0" y="421.0" textLength="10.1" lengthAdjust="spacingAndGlyphs">4,9</text>
<text x="88.8" y="483.4" textLength="30.0" lengthAdjust="spacingAndGlyphs">ПОСТИР.</text>
<text x="99.0" y="492.8" textLength="9.6" lengthAdjust="spacingAndGlyphs">4,0</text>
</g>

</svg>
</body></html>
